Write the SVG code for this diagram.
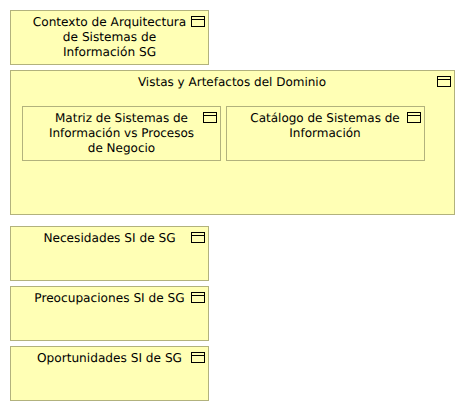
<svg xmlns="http://www.w3.org/2000/svg" width="465" height="411" viewBox="0 0 465 411">
<style>
.box{fill:#ffffb5;stroke:#b2b27d;stroke-width:1}
.ico{fill:none;stroke:#000;stroke-width:1}
text{font-family:"DejaVu Sans",sans-serif;font-size:12.15px;fill:#000;text-anchor:middle;text-rendering:geometricPrecision}
.n{font-size:12px}
</style>
<defs><g id="icon"><rect class="ico" x="0" y="0" width="13" height="10"/><path class="ico" d="M0 3H13"/></g></defs>
<rect width="465" height="411" fill="#fff"/>
<g id="connectors"/>
<g id="contexto"><rect class="box" x="10.5" y="10.5" width="198" height="54"/><use href="#icon" x="191.5" y="16.5"/>
<text x="109.5" y="26">Contexto de Arquitectura</text><text x="109.5" y="41">de Sistemas de</text><text x="109.5" y="56">Información SG</text></g>
<g id="vistas"><rect class="box" x="10.5" y="70.5" width="444" height="144"/><use href="#icon" x="437.5" y="76.5"/>
<text class="n" x="232" y="86">Vistas y Artefactos del Dominio</text></g>
<g id="matriz"><rect class="box" x="22.5" y="106.5" width="198" height="54"/><use href="#icon" x="203.5" y="112.5"/>
<text class="n" x="121.5" y="122">Matriz de Sistemas de</text><text class="n" x="121.5" y="137">Información vs Procesos</text><text class="n" x="121.5" y="152">de Negocio</text></g>
<g id="catalogo"><rect class="box" x="226.5" y="106.5" width="198" height="54"/><use href="#icon" x="407.5" y="112.5"/>
<text class="n" x="325" y="122">Catálogo de Sistemas de</text><text class="n" x="325" y="137">Información</text></g>
<g id="necesidades"><rect class="box" x="10.5" y="226.5" width="198" height="54"/><use href="#icon" x="191.5" y="232.5"/>
<text x="109.5" y="242">Necesidades SI de SG</text></g>
<g id="preocupaciones"><rect class="box" x="10.5" y="286.5" width="198" height="54"/><use href="#icon" x="191.5" y="292.5"/>
<text x="109.5" y="302">Preocupaciones SI de SG</text></g>
<g id="oportunidades"><rect class="box" x="10.5" y="346.5" width="198" height="54"/><use href="#icon" x="191.5" y="352.5"/>
<text x="109.5" y="362">Oportunidades SI de SG</text></g>
</svg>
